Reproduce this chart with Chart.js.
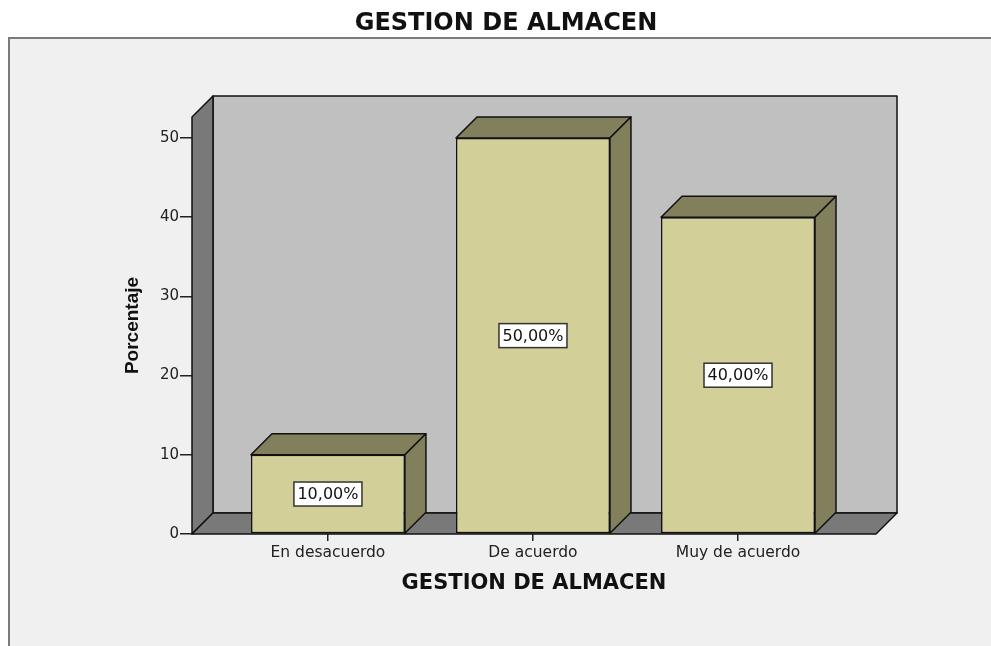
<!DOCTYPE html>
<html>
<head>
<meta charset="utf-8">
<script src="https://cdn.jsdelivr.net/npm/chart.js@4.4.1/dist/chart.umd.min.js"></script>
<style>
  html, body { margin: 0; padding: 0; background: #fff; }
</style>
</head>
<body>
<canvas id="chart" width="991" height="646"></canvas>
<script>
// values
const categories = ["En desacuerdo", "De acuerdo", "Muy de acuerdo"];
const percentages = [10, 50, 40];
const yTicks = [0, 10, 20, 30, 40, 50];

const DEPTH = 21; // 3d offset of walls and bars

function poly(ctx, pts, fill) {
    ctx.beginPath();
    ctx.moveTo(pts[0][0], pts[0][1]);
    for (let i = 1; i < pts.length; i++) ctx.lineTo(pts[i][0], pts[i][1]);
    ctx.closePath();
    ctx.fillStyle = fill;
    ctx.fill();
    ctx.stroke();
}

// grey frame behind the plot
const framePlugin = {
    id: "frame",
    beforeDraw(chart) {
        const ctx = chart.ctx;
        ctx.save();
        ctx.fillStyle = "#ffffff";
        ctx.fillRect(0, 0, chart.width, chart.height);
        ctx.fillStyle = "#f0f0f0";
        ctx.fillRect(9, 38, chart.width, chart.height);
        ctx.strokeStyle = "#7a7a7a";
        ctx.lineWidth = 2;
        ctx.beginPath();
        ctx.moveTo(9, chart.height);
        ctx.lineTo(9, 38);
        ctx.lineTo(chart.width, 38);
        ctx.stroke();
        ctx.restore();
    }
};

// walls, floor and the top/side faces of the bars
const box3dPlugin = {
    id: "box3d",
    beforeDatasetsDraw(chart) {
        const ctx = chart.ctx;
        const a = chart.chartArea;
        const d = DEPTH;
        ctx.save();
        ctx.strokeStyle = "#111";
        ctx.lineWidth = 1.5;
        ctx.lineJoin = "round";
        poly(ctx, [[a.left + d, a.top - d], [a.right + d, a.top - d], [a.right + d, a.bottom - d], [a.left + d, a.bottom - d]], "#c0c0c0");
        poly(ctx, [[a.left, a.bottom], [a.left, a.top], [a.left + d, a.top - d], [a.left + d, a.bottom - d]], "#797979");
        poly(ctx, [[a.left, a.bottom], [a.right, a.bottom], [a.right + d, a.bottom - d], [a.left + d, a.bottom - d]], "#797979");

        const meta = chart.getDatasetMeta(0);
        meta.data.forEach(bar => {
            const p = bar.getProps(["x", "y", "base", "width"], true);
            const l = p.x - p.width / 2, r = p.x + p.width / 2;
            poly(ctx, [[l, p.y], [l + d, p.y - d], [r + d, p.y - d], [r, p.y]], "#817f5c");
            poly(ctx, [[r, p.y], [r + d, p.y - d], [r + d, p.base - d], [r, p.base]], "#817f5c");
        });
        ctx.restore();
    },
    afterDatasetsDraw(chart) {
        const ctx = chart.ctx;
        const meta = chart.getDatasetMeta(0);
        ctx.save();
        ctx.font = "16px 'DejaVu Sans'";
        ctx.textAlign = "center";
        ctx.textBaseline = "middle";
        meta.data.forEach((bar, i) => {
            const p = bar.getProps(["x", "y", "base"], true);
            const text = percentages[i].toFixed(2).replace(".", ",") + "%";
            const w = ctx.measureText(text).width + 7;
            const h = 24;
            const cy = (p.y + p.base) / 2;
            ctx.fillStyle = "#fff";
            ctx.fillRect(p.x - w / 2, cy - h / 2, w, h);
            ctx.strokeStyle = "#333";
            ctx.lineWidth = 1.5;
            ctx.strokeRect(p.x - w / 2, cy - h / 2, w, h);
            ctx.fillStyle = "#111";
            ctx.fillText(text, p.x, cy + 1);
        });
        ctx.restore();
    }
};

const ctx = document.getElementById("chart").getContext("2d");
new Chart(ctx, {
    type: "bar",
    data: {
        datasets: [{
            data: categories.map((c, i) => ({ x: i, y: percentages[i] })),
            backgroundColor: "#d3cf98",
            borderColor: "#111",
            borderWidth: 1.5,
            borderSkipped: false,
            categoryPercentage: 1,
            barPercentage: 0.751
        }]
    },
    options: {
        responsive: false,
        devicePixelRatio: 1,
        animation: false,
        layout: { padding: { left: 21, right: 0, top: 0, bottom: 0 } },
        scales: {
            x: {
                type: "linear",
                min: -0.663,
                max: 2.673,
                offset: false,
                afterFit: s => { s.height = 112; },
                afterBuildTicks: s => { s.ticks = categories.map((c, i) => ({ value: i })); },
                grid: { offset: false, drawOnChartArea: false, tickLength: 7, color: "#222", lineWidth: 1.5 },
                border: { display: false },
                ticks: {
                    padding: 3,
                    color: "#222",
                    font: { family: "'DejaVu Sans'", size: 15.5 },
                    callback: v => categories[v]
                },
                title: {
                    display: true,
                    text: "GESTION DE ALMACEN",
                    color: "#111",
                    font: { family: "'DejaVu Sans'", size: 21, weight: "bold" },
                    padding: { top: 0, bottom: 49.4 }
                }
            },
            y: {
                min: 0,
                max: 52.65,
                afterFit: s => { s.width = 171; },
                afterBuildTicks: s => { s.ticks = yTicks.map(v => ({ value: v })); },
                grid: { drawOnChartArea: false, tickLength: 12, color: "#222", lineWidth: 1.5 },
                border: { display: false },
                ticks: {
                    padding: 1,
                    color: "#222",
                    font: { family: "'DejaVu Sans'", size: 15 }
                },
                title: {
                    display: true,
                    text: "Porcentaje",
                    color: "#111",
                    font: { family: "'Liberation Sans'", size: 19, weight: "bold" },
                    padding: { top: 100.6, bottom: 0 }
                }
            },
            // empty axis that keeps the space right of the plot
            y2: {
                position: "right",
                afterFit: s => { s.width = 115; },
                grid: { display: false },
                border: { display: false },
                ticks: { display: false }
            }
        },
        plugins: {
            legend: { display: false },
            tooltip: { enabled: false },
            title: {
                display: true,
                text: "GESTION DE ALMACEN",
                color: "#111",
                font: { family: "'DejaVu Sans'", size: 24, weight: "bold" },
                padding: { top: 9.1, bottom: 79.1 }
            }
        }
    },
    plugins: [framePlugin, box3dPlugin]
});
</script>
</body>
</html>
